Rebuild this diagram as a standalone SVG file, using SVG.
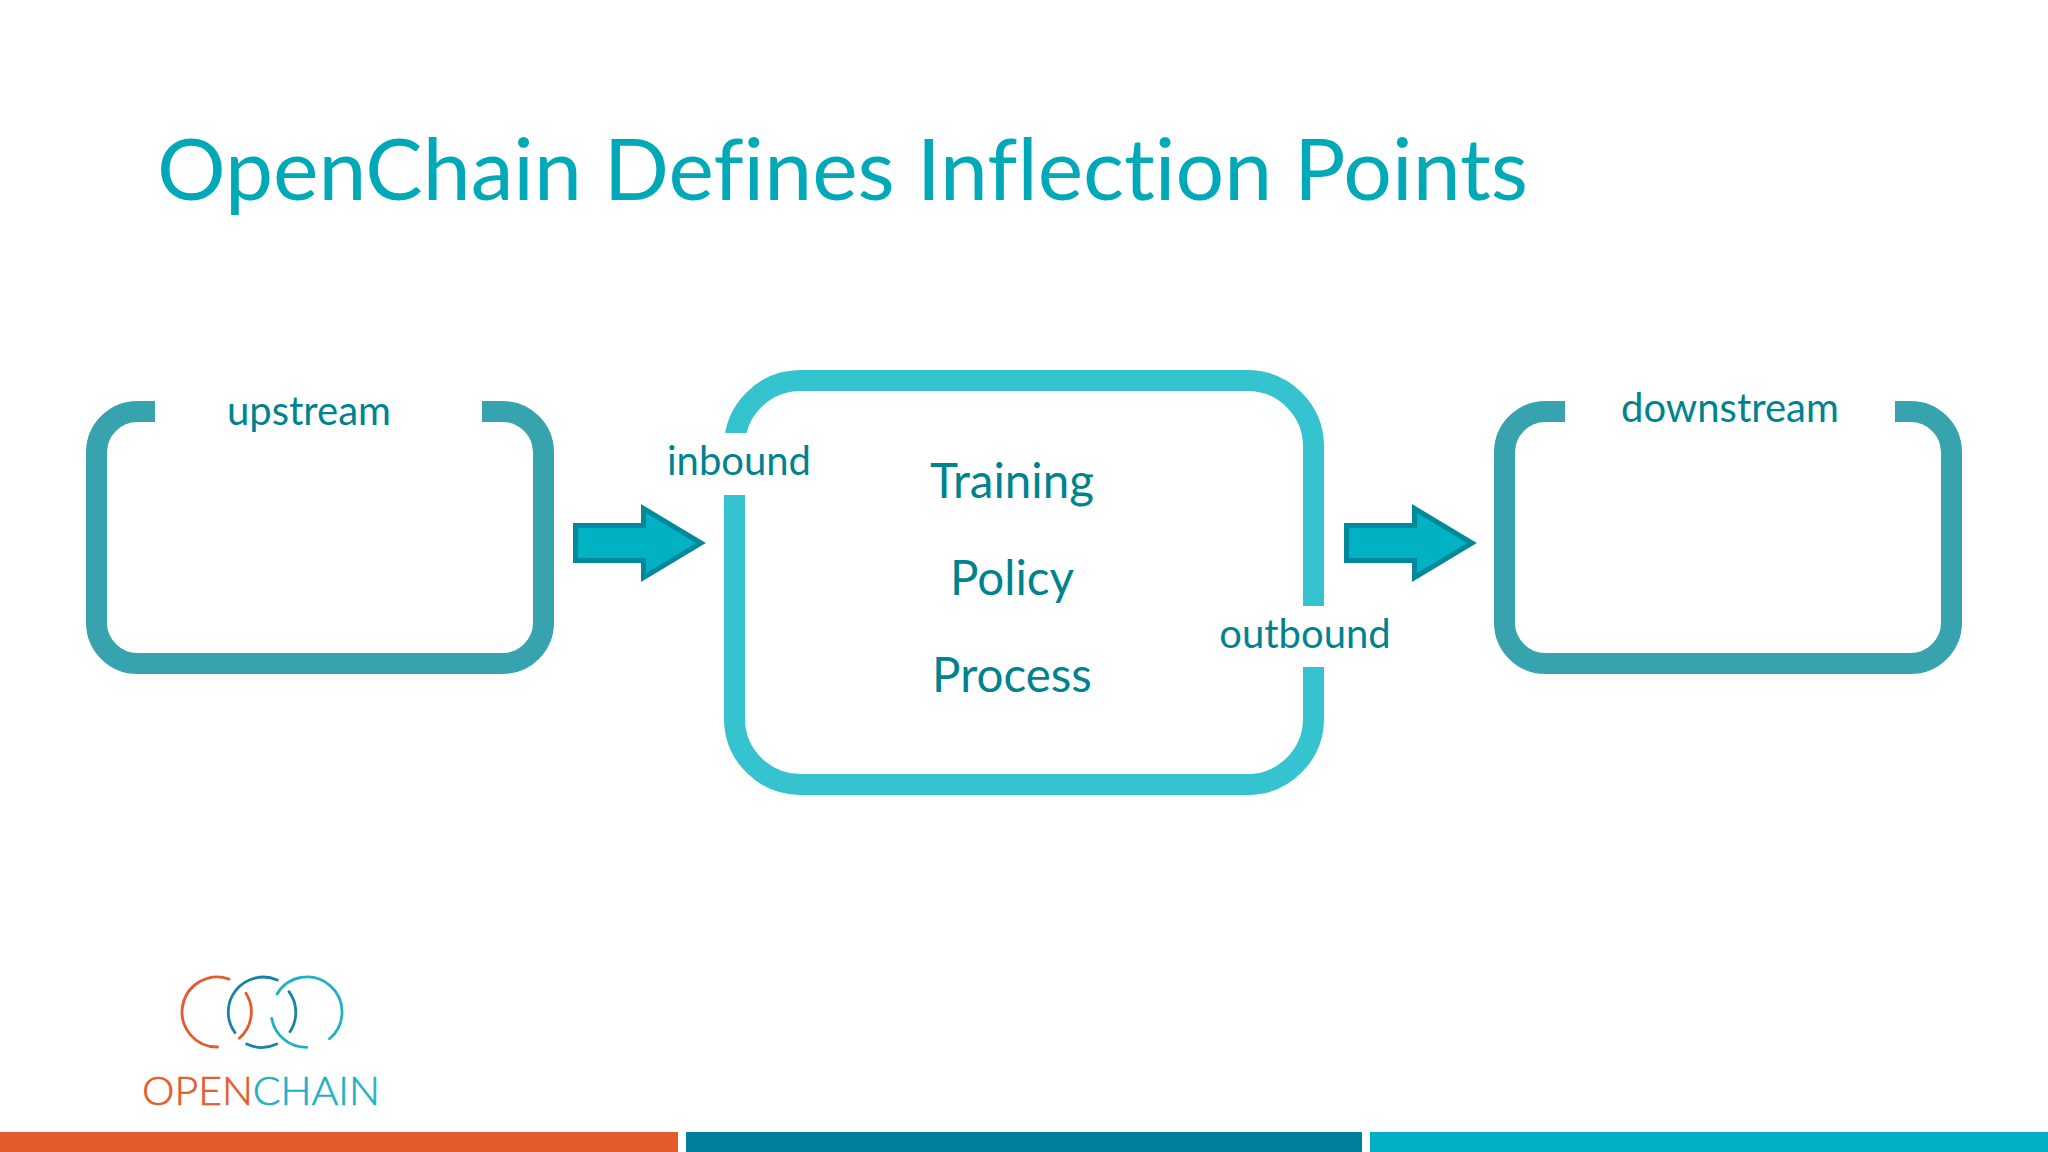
<svg xmlns="http://www.w3.org/2000/svg" width="2048" height="1152" viewBox="0 0 2048 1152">
<style>
text{font-family:"Lato","Open Sans","Liberation Sans",sans-serif;font-variant-ligatures:none}
.lbl{fill:#00838f;font-size:40px;text-anchor:middle}
.big{fill:#00838f;font-size:47.500px;text-anchor:middle}
.box{fill:none;stroke-width:21}
.side{stroke:#36a3af}
.mid{stroke:#36c3d0}
.arrow{fill:#00b2c3;stroke:#00889b;stroke-width:5}
.ring{fill:none;stroke-width:2.800;stroke-linecap:round}
</style>
<defs>
<polygon id="arr" class="arrow" points="575.500,525.500 643.500,525.500 643.500,508.500 701,543 643.500,577.500 643.500,560.500 575.500,560.500"/>
<clipPath id="midclip"><path d="M700 340H1340V1000H700V495H770V433H700Z"/></clipPath>
</defs>
<rect width="2048" height="1152" fill="#fff"/>
<text id="title" x="157" y="200" font-size="85" fill="#00a9b7" textLength="1371" lengthAdjust="spacingAndGlyphs">OpenChain Defines Inflection Points</text>
<g id="upstream">
<path class="box side" d="M155 411.500H137.500A41 41 0 0 0 96.500 452.500V622.500A41 41 0 0 0 137.500 663.500H502.500A41 41 0 0 0 543.500 622.500V452.500A41 41 0 0 0 502.500 411.500H482"/>
<text class="lbl" x="309" y="425">upstream</text>
</g>
<g id="center">
<path class="box mid" clip-path="url(#midclip)" d="M734.500 446.500A66 66 0 0 1 800.500 380.500H1247.500A66 66 0 0 1 1313.500 446.500V606M1313.500 667V718.500A66 66 0 0 1 1247.500 784.500H800.500A66 66 0 0 1 734.500 718.500V446.500"/>
<text class="lbl" x="739" y="475">inbound</text>
<text class="big" x="1012" y="498">Training</text>
<text class="big" x="1012" y="595">Policy</text>
<text class="big" x="1012" y="692">Process</text>
<text class="lbl" x="1305" y="648">outbound</text>
</g>
<g id="downstream">
<path class="box side" d="M1565 411.500H1545.500A41 41 0 0 0 1504.500 452.500V622.500A41 41 0 0 0 1545.500 663.500H1910.500A41 41 0 0 0 1951.500 622.500V452.500A41 41 0 0 0 1910.500 411.500H1895"/>
<text class="lbl" x="1730" y="422">downstream</text>
</g>
<g id="connectors">
<use href="#arr"/>
<use href="#arr" x="771"/>
</g>
<g id="logo">
<path class="ring" stroke="#e65b2b" d="M229 979.100A35 35 0 1 0 217.600 1047M246 993.300A35 35 0 0 1 239.300 1038.300"/>
<path class="ring" stroke="#1a83a3" d="M277.300 980A35 35 0 0 0 235 1032.700M246.700 1044A35 35 0 0 0 276.700 1044M289 991.700A35 35 0 0 1 290 1031.700"/>
<path class="ring" stroke="#1fb0c4" d="M277 994A35 35 0 1 1 329.500 1038.800M271.700 1018.300A35 35 0 0 0 306.700 1047.300"/>
<text x="142" y="1105" font-size="39" font-weight="300" stroke-width="0.600" textLength="238" lengthAdjust="spacingAndGlyphs"><tspan fill="#e65b2b" stroke="#e65b2b">OPEN</tspan><tspan fill="#1fb0c4" stroke="#1fb0c4">CHAIN</tspan></text>
</g>
<g id="footer">
<rect x="0" y="1132" width="678" height="20" fill="#e65b2b"/>
<rect x="686" y="1132" width="676" height="20" fill="#00809e"/>
<rect x="1370" y="1132" width="678" height="20" fill="#00b0c6"/>
</g>
</svg>
